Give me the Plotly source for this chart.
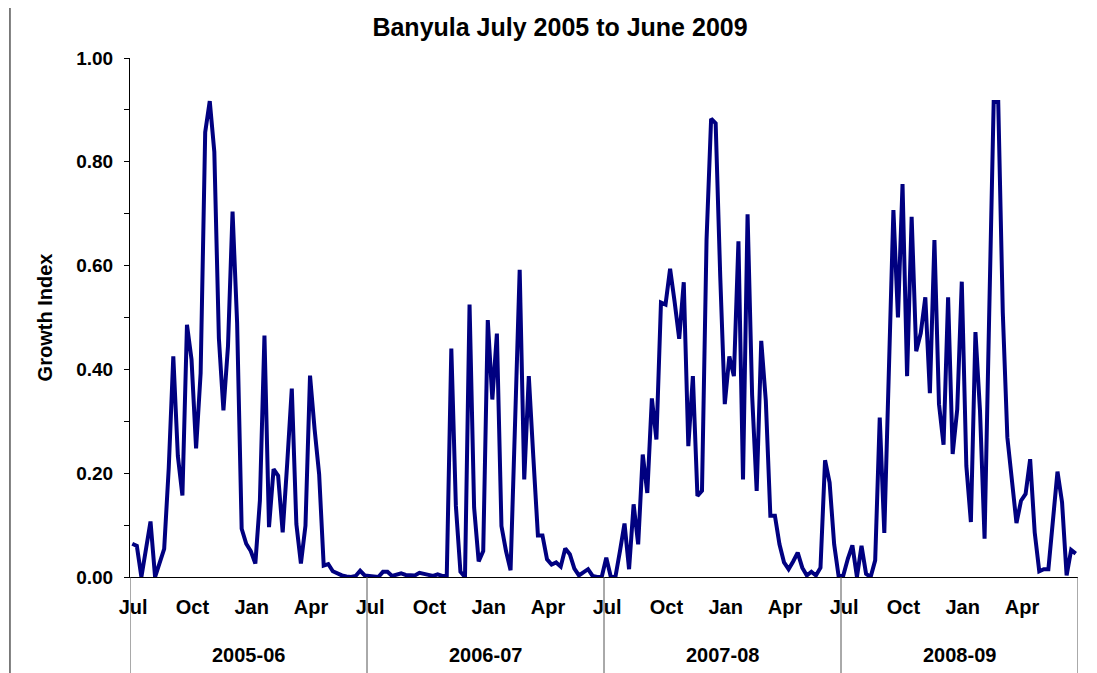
import plotly.graph_objects as go

# weekly growth index, one list per season (Jul -> Jun)
seasons = ["2005-06", "2006-07", "2007-08", "2008-09"]
months = ["Jul", "Oct", "Jan", "Apr"]
month_week = [0, 13, 26, 39]  # week of the season where each month label sits

growth_0506 = [0.064, 0.06, 0.0, 0.058, 0.107, 0.0, 0.03, 0.054, 0.21, 0.425,
               0.233, 0.157, 0.486, 0.419, 0.248, 0.393, 0.857, 0.917, 0.819, 0.46,
               0.321, 0.445, 0.704, 0.49, 0.093, 0.064, 0.05, 0.026, 0.147, 0.465,
               0.096, 0.208, 0.195, 0.086, 0.22, 0.363, 0.102, 0.026, 0.099, 0.388,
               0.285, 0.198, 0.022, 0.025, 0.011, 0.006, 0.003, 0.001, 0.0, 0.002,
               0.012, 0.003]
growth_0607 = [0.002, 0.0, 0.0, 0.01, 0.01, 0.002, 0.004, 0.007, 0.004, 0.004,
               0.003, 0.008, 0.005, 0.004, 0.002, 0.005, 0.002, 0.002, 0.44, 0.137,
               0.01, 0.0, 0.525, 0.134, 0.03, 0.05, 0.495, 0.342, 0.469, 0.098,
               0.05, 0.013, 0.30, 0.592, 0.188, 0.387, 0.23, 0.08, 0.08, 0.034,
               0.024, 0.028, 0.02, 0.055, 0.044, 0.016, 0.003, 0.008, 0.015, 0.002,
               0.0, 0.0]
growth_0708 = [0.037, 0.0, 0.0, 0.05, 0.103, 0.015, 0.14, 0.063, 0.236, 0.162,
               0.344, 0.265, 0.529, 0.525, 0.594, 0.53, 0.459, 0.568, 0.252, 0.387,
               0.156, 0.166, 0.65, 0.883, 0.874, 0.58, 0.333, 0.425, 0.387, 0.647,
               0.188, 0.699, 0.35, 0.166, 0.455, 0.34, 0.118, 0.118, 0.063, 0.028,
               0.015, 0.03, 0.047, 0.018, 0.003, 0.01, 0.003, 0.018, 0.225, 0.182,
               0.063, 0.0]
growth_0809 = [0.003, 0.035, 0.061, 0.0, 0.06, 0.006, 0.0, 0.032, 0.307, 0.085,
               0.40, 0.707, 0.5, 0.757, 0.387, 0.694, 0.435, 0.47, 0.539, 0.354,
               0.649, 0.333, 0.255, 0.539, 0.237, 0.323, 0.569, 0.214, 0.106, 0.472,
               0.32, 0.074, 0.5, 0.915, 0.915, 0.509, 0.269, 0.19, 0.104, 0.147,
               0.16, 0.227, 0.086, 0.011, 0.015, 0.015, 0.11, 0.203, 0.144, 0.003,
               0.052, 0.045]

all_seasons = [growth_0506, growth_0607, growth_0708, growth_0809]
values = [v for s in all_seasons for v in s]
weeks = list(range(len(values)))
nweeks = len(growth_0506)

font = "Liberation Sans, Arial, sans-serif"

fig = go.Figure()
fig.add_trace(go.Scatter(x=weeks, y=values, mode="lines",
                         line=dict(color="#000080", width=4), showlegend=False))

#month labels on the axis, season labels + separators below
tickvals, ticktext = [], []
for k in range(len(seasons)):
    for m, w in zip(months, month_week):
        tickvals.append(k * nweeks + w + 0.2)
        ticktext.append(m)

for k, s in enumerate(seasons):
    fig.add_annotation(x=k * nweeks + nweeks / 2 - 0.5, y=-0.15, xref="x", yref="paper",
                       text=s, showarrow=False, yanchor="middle",
                       font=dict(family=font, size=20, color="black", weight="bold"))
for k in range(len(seasons) + 1):
    fig.add_shape(type="line", xref="x", yref="paper", x0=k * nweeks - 0.5, x1=k * nweeks - 0.5,
                  y0=0, y1=-0.2, line=dict(color="#555555", width=1))

#chart border on the left
fig.add_shape(type="line", xref="paper", yref="paper", x0=-0.1266, x1=-0.1266,
              y0=-0.2, y1=1.12, line=dict(color="black", width=1))

# page has an 8px body margin, so margins are shifted by 8 to land the plot where the reference has it
fig.update_layout(
    width=1097, height=673,
    margin=dict(l=122, r=27, t=50, b=104),
    paper_bgcolor="white", plot_bgcolor="white",
    title=dict(text="Banyula July 2005 to June 2009", x=552 / 1097, xref="container",
               y=1 - 19 / 673, yref="container", xanchor="center", yanchor="middle",
               font=dict(family=font, size=25, color="black", weight="bold")),
    xaxis=dict(range=[-0.5, len(values) - 0.5], tickvals=tickvals, ticktext=ticktext,
               ticks="", showgrid=False, zeroline=False, showline=True, linecolor="black",
               linewidth=1, ticklabelstandoff=12,
               tickfont=dict(family=font, size=20, color="black", weight="bold")),
    yaxis=dict(range=[0, 1], tickvals=[0, 0.2, 0.4, 0.6, 0.8, 1.0], tickformat=".2f",
               ticks="outside", ticklen=5, tickcolor="black", showgrid=False,
               zeroline=False, showline=True, linecolor="black", linewidth=1,
               minor=dict(dtick=0.1, ticks="outside", ticklen=5, tickcolor="black"),
               ticklabelstandoff=7,
               tickfont=dict(family=font, size=19, color="black", weight="bold"),
               title=dict(text="Growth Index", standoff=18,
                          font=dict(family=font, size=20, color="black", weight="bold"))),
)

fig.write_html("out.html")
